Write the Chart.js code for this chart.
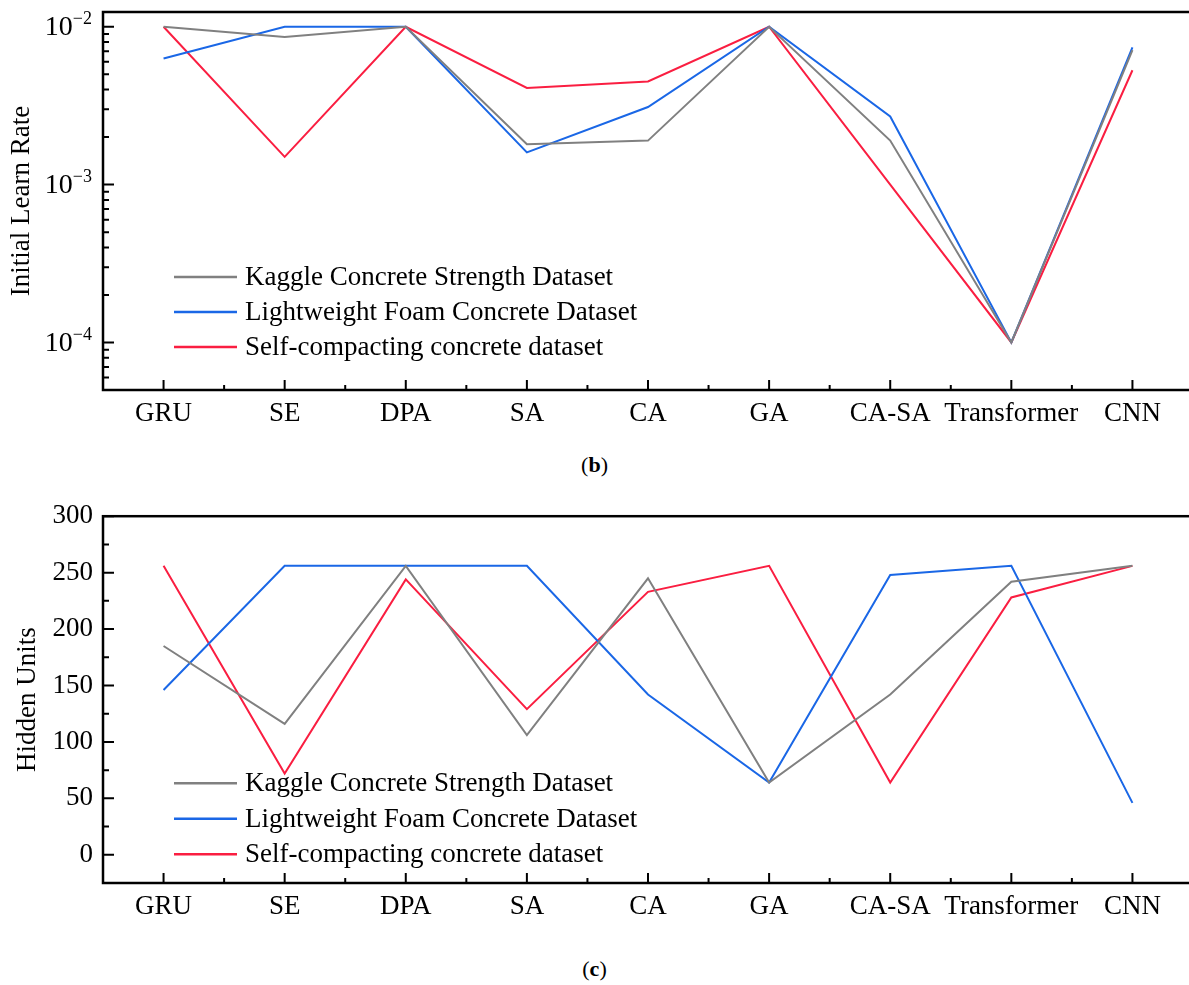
<!DOCTYPE html>
<html>
<head>
<meta charset="utf-8">
<script src="https://cdn.jsdelivr.net/npm/chart.js@4.4.1/dist/chart.umd.min.js"></script>
<style>
  html { overflow: hidden; }
  body { margin: 0; width: 1189px; height: 985px; overflow: hidden; background: #fff; position: relative; font-family: 'Liberation Serif', 'Times New Roman', serif; }
  .box { position: absolute; left: 0; width: 1189px; height: 440px; overflow: hidden; }
  .box canvas { display: block; width: 1210px; height: 440px; }
  .cap { position: absolute; left: 0; width: 1189px; text-align: center; font-size: 22px; color: #000; }
</style>
</head>
<body>
<div class="box" style="top:0"><canvas id="lrChart" width="1210" height="440"></canvas></div>
<div class="cap" style="top:452px">(<b>b</b>)</div>
<div class="box" style="top:490px"><canvas id="huChart" width="1210" height="440"></canvas></div>
<div class="cap" style="top:956px">(<b>c</b>)</div>
<script>
const categories = ['GRU', 'SE', 'DPA', 'SA', 'CA', 'GA', 'CA-SA', 'Transformer', 'CNN'];
const seriesNames = ['Kaggle Concrete Strength Dataset', 'Lightweight Foam Concrete Dataset', 'Self-compacting concrete dataset'];
const seriesColors = ['#808080', '#1a67e6', '#fa1e41'];

// (b) initial learn rate
const lrKaggle = [0.01, 0.0086, 0.01, 0.0018, 0.0019, 0.01, 0.0019, 0.0001, 0.0071];
const lrFoam = [0.0063, 0.01, 0.01, 0.0016, 0.0031, 0.01, 0.0027, 0.0001, 0.0074];
const lrScc = [0.01, 0.0015, 0.01, 0.0041, 0.0045, 0.01, 0.001, 0.0001, 0.0053];
const lrMajorTicks = [1e-4, 1e-3, 1e-2];

// (c) hidden units
const huKaggle = [185, 116, 256, 106, 245, 64, 142, 242, 256];
const huFoam = [146, 256, 256, 256, 142, 64, 248, 256, 46];
const huScc = [256, 72, 244, 129, 233, 256, 64, 228, 256];
const huTicks = [0, 50, 100, 150, 200, 250, 300];

const FONT = 'Liberation Serif';

// minor ticks: 2..9 per decade for the log axis, midpoints for the linear one
const lrMinor = [];
[1e-5, ...lrMajorTicks].forEach(d => {
    for (let k = 2; k <= 9; k++) {
        const v = k * d;
        if (v >= 5e-5 && v <= 0.0124) lrMinor.push(v);
    }
});
const huMinor = huTicks.slice(0, -1).map((v, i) => (v + huTicks[i + 1]) / 2);

const frame = {
    id: 'frame',
    afterDatasetsDraw(chart, args, opts) {
        const { ctx, chartArea: a, scales: { x, y } } = chart;
        ctx.save();
        ctx.strokeStyle = '#000';
        ctx.lineWidth = 2;
        ctx.beginPath();
        for (let i = 0; i < categories.length; i++) {
            const px = x.getPixelForValue(i);
            ctx.moveTo(px, a.bottom);
            ctx.lineTo(px, a.bottom - 10);
            if (i < categories.length - 1) {
                const mx = (px + x.getPixelForValue(i + 1)) / 2;
                ctx.moveTo(mx, a.bottom);
                ctx.lineTo(mx, a.bottom - 5);
            }
        }
        opts.major.forEach(v => {
            const py = y.getPixelForValue(v);
            ctx.moveTo(a.left, py);
            ctx.lineTo(a.left + 11, py);
        });
        opts.minor.forEach(v => {
            const py = y.getPixelForValue(v);
            ctx.moveTo(a.left, py);
            ctx.lineTo(a.left + 6, py);
        });
        ctx.stroke();
        ctx.lineWidth = 2.5;
        ctx.strokeRect(a.left, a.top, a.right - a.left, a.bottom - a.top);

        // power-of-ten labels
        if (opts.powers) {
            ctx.fillStyle = '#000';
            ctx.textAlign = 'right';
            ctx.textBaseline = 'middle';
            opts.major.forEach(v => {
                const py = y.getPixelForValue(v);
                const sup = '\u2212' + Math.round(-Math.log10(v));
                ctx.font = '18px ' + FONT;
                const w = ctx.measureText(sup).width;
                ctx.fillText(sup, a.left - 11, py - 7);
                ctx.font = '28px ' + FONT;
                ctx.fillText('10', a.left - 11 - w, py + 1);
            });
        }

        // legend
        ctx.textAlign = 'left';
        ctx.textBaseline = 'middle';
        ctx.font = '27px ' + FONT;
        chart.data.datasets.forEach((ds, i) => {
            const ly = a.top + opts.legendTop + i * opts.legendGap;
            ctx.strokeStyle = ds.borderColor;
            ctx.lineWidth = 2.5;
            ctx.beginPath();
            ctx.moveTo(a.left + 71, ly);
            ctx.lineTo(a.left + 134, ly);
            ctx.stroke();
            ctx.fillStyle = '#000';
            ctx.fillText(ds.label, a.left + 142, ly + 1);
        });
        ctx.restore();
    }
};

function makeDatasets(series) {
    return series.map((data, i) => ({
        label: seriesNames[i],
        data: data,
        borderColor: seriesColors[i],
        backgroundColor: seriesColors[i],
        borderWidth: 2,
        pointRadius: 0,
        tension: 0,
        fill: false
    }));
}

function xAxis(height) {
    return {
        type: 'category',
        offset: true,
        grid: { display: false, drawTicks: false },
        border: { display: false },
        ticks: { color: '#000', font: { family: FONT, size: 27 }, padding: 8, maxRotation: 0, autoSkip: false },
        afterFit(scale) { scale.height = height; }
    };
}

new Chart(document.getElementById('lrChart'), {
    type: 'line',
    data: { labels: categories, datasets: makeDatasets([lrKaggle, lrFoam, lrScc]) },
    options: {
        responsive: false,
        animation: false,
        layout: { padding: { top: 12, right: 17, left: 0, bottom: 0 } },
        plugins: {
            legend: { display: false },
            tooltip: { enabled: false },
            frame: { major: lrMajorTicks, minor: lrMinor, powers: true, legendTop: 265, legendGap: 35 }
        },
        scales: {
            x: xAxis(50),
            y: {
                type: 'logarithmic',
                min: 5e-5,
                max: 0.0124,
                grid: { display: false, drawTicks: false },
                border: { display: false },
                ticks: { display: false },
                afterBuildTicks(scale) { scale.ticks = lrMajorTicks.map(v => ({ value: v })); },
                afterFit(scale) { scale.width = 103; },
                title: { display: true, text: 'Initial Learn Rate', color: '#000', font: { family: FONT, size: 27 }, padding: { top: 6, bottom: 0 } }
            }
        }
    },
    plugins: [frame]
});

new Chart(document.getElementById('huChart'), {
    type: 'line',
    data: { labels: categories, datasets: makeDatasets([huKaggle, huFoam, huScc]) },
    options: {
        responsive: false,
        animation: false,
        layout: { padding: { top: 15, right: 17, left: 0, bottom: 0 } },
        plugins: {
            legend: { display: false },
            tooltip: { enabled: false },
            frame: { major: huTicks, minor: huMinor, powers: false, legendTop: 267, legendGap: 35.5 }
        },
        scales: {
            x: xAxis(47),
            y: {
                min: -25,
                max: 300,
                grid: { display: false, drawTicks: false },
                border: { display: false },
                ticks: { color: '#000', font: { family: FONT, size: 27 }, padding: 10 },
                afterBuildTicks(scale) { scale.ticks = huTicks.map(v => ({ value: v })); },
                afterFit(scale) { scale.width = 103; },
                title: { display: true, text: 'Hidden Units', color: '#000', font: { family: FONT, size: 27 }, padding: { top: 12, bottom: 0 } }
            }
        }
    },
    plugins: [frame]
});
</script>
</body>
</html>
